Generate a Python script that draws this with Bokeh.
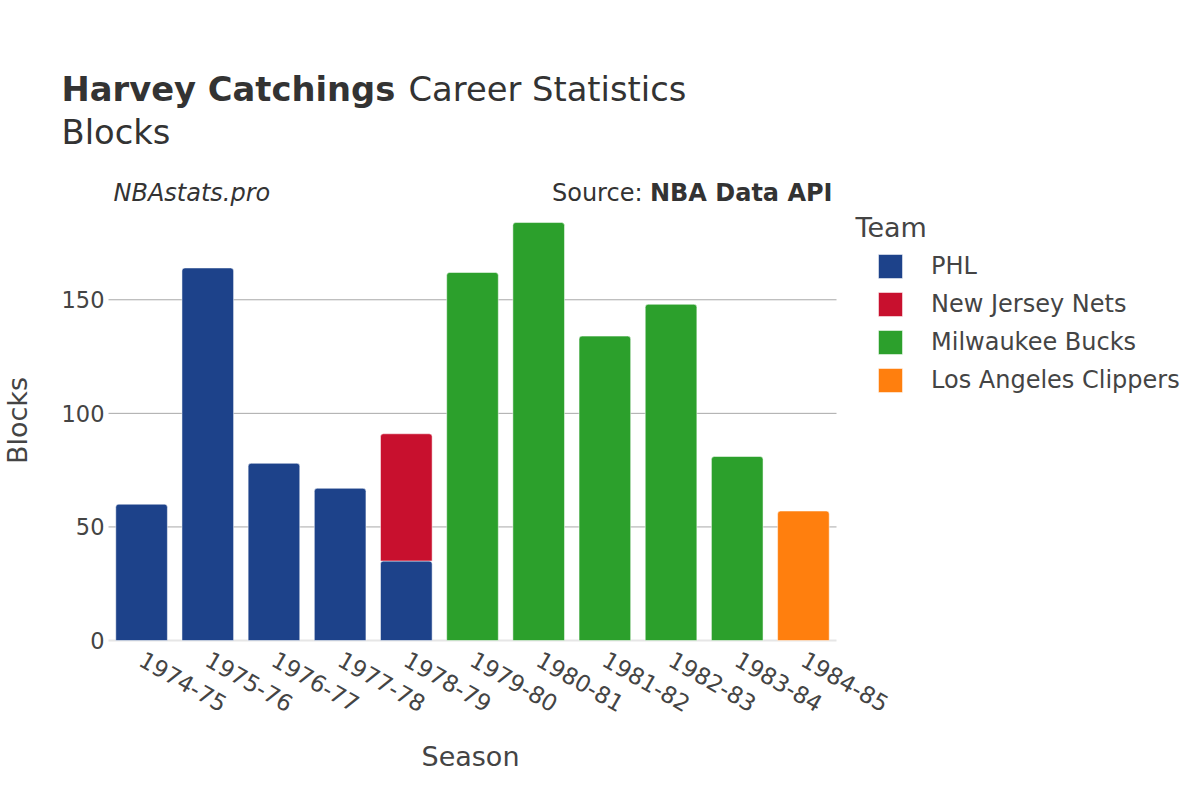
import math
from bokeh.plotting import figure
from bokeh.models import (ColumnDataSource, Range1d, FixedTicker, Label, LinearAxis,
                          Legend, LegendItem, Title)
from bokeh.core.properties import value
from bokeh.embed import file_html
from bokeh.resources import INLINE

# ---- data ----
seasons = ["1974-75", "1975-76", "1976-77", "1977-78", "1978-79", "1979-80",
           "1980-81", "1981-82", "1982-83", "1983-84", "1984-85"]
teams = ["PHL", "New Jersey Nets", "Milwaukee Bucks", "Los Angeles Clippers"]
phl = [60, 164, 78, 67, 35, 0, 0, 0, 0, 0, 0]
njn = [0, 0, 0, 0, 56, 0, 0, 0, 0, 0, 0]
mil = [0, 0, 0, 0, 0, 162, 184, 134, 148, 81, 0]
lac = [0, 0, 0, 0, 0, 0, 0, 0, 0, 0, 57]
colors = ["#1D428A", "#C8102E", "#2CA02C", "#FF7F0E"]
y_ticks = [0, 50, 100, 150]
y_max = 193.7

# ---- layout (pixels) ----
W, H = 1184, 792
PLOT_L, PLOT_R, PLOT_T, PLOT_B = 108, 836, 200, 640   # data area
FRAME_B = 651                                         # frame bottom (room for "0")
n = len(seasons)
unit_x = (PLOT_R - PLOT_L) / n
unit_y = (PLOT_B - PLOT_T) / y_max

p = figure(width=W, height=H, output_backend="svg", toolbar_location=None,
           x_range=Range1d(0, W), y_range=Range1d(FRAME_B, 0),
           x_axis_type=None, y_axis_type=None,
           min_border=0, min_border_left=0, min_border_right=0, min_border_top=0,
           min_border_bottom=H - FRAME_B)
p.title.visible = False
p.outline_line_color = None
p.xgrid.visible = False
p.ygrid.visible = False
p.background_fill_color = "white"
p.border_fill_color = "white"

# data ranges mapped onto the pixel frame
p.extra_x_ranges = {"dx": Range1d(-PLOT_L / unit_x, (W - PLOT_L) / unit_x)}
p.extra_y_ranges = {"dy": Range1d(-(FRAME_B - PLOT_B) / unit_y, PLOT_B / unit_y)}

xpos = [i + 0.5 for i in range(n)]

# ---- grid lines and zero line ----
p.segment(x0=[0] * 3, x1=[n] * 3, y0=y_ticks[1:], y1=y_ticks[1:],
          x_range_name="dx", y_range_name="dy", line_color="#a8a8a8", line_width=1)
p.segment(x0=[0], x1=[n], y0=[0], y1=[0], x_range_name="dx", y_range_name="dy",
          line_color="#e6e6e6", line_width=2)

# ---- bars (stacked) ----
series = [phl, njn, mil, lac]
bottom = [0] * n
renderers = []
for name, vals, col in zip(teams, series, colors):
    xs, tops, bots = [], [], []
    for i, v in enumerate(vals):
        if v > 0:
            xs.append(xpos[i]); bots.append(bottom[i]); tops.append(bottom[i] + v)
    bottom = [b + v for b, v in zip(bottom, vals)]
    src = ColumnDataSource(dict(x=xs, top=tops, bottom=bots))
    r = p.vbar(x="x", top="top", bottom="bottom", width=0.78, source=src,
               x_range_name="dx", y_range_name="dy",
               fill_color=col, line_color="white", line_width=1, line_alpha=0.5,
               border_radius=(3, 3, 0, 0))
    renderers.append(r)

# ---- y tick labels ----
p.text(x=[PLOT_L - 4] * len(y_ticks), y=y_ticks, text=[str(t) for t in y_ticks],
       y_range_name="dy", text_font=value("DejaVu Sans"), text_font_size="22.5px",
       text_color="#444444", text_align="right", text_baseline="middle")

# ---- x axis ----
xaxis = LinearAxis(x_range_name="dx", ticker=FixedTicker(ticks=xpos),
                   major_label_overrides={xp: s for xp, s in zip(xpos, seasons)},
                   bounds=(0, n))
xaxis.axis_line_color = None
xaxis.major_tick_line_color = None
xaxis.minor_tick_line_color = None
xaxis.major_label_text_font = "DejaVu Sans"
xaxis.major_label_text_font_size = "23px"
xaxis.major_label_text_color = "#444444"
xaxis.major_label_orientation = -math.pi / 6
xaxis.major_label_standoff = 0
p.add_layout(xaxis, "below")

p.add_layout(Title(text="Season", align="left", offset=421, standoff=30,
                   text_font="DejaVu Sans", text_font_size="27px",
                   text_font_style="normal", text_color="#444444"), "below")

# ---- texts ----
def add_label(text, x, y, size, bold=False, italic=False, align="left", angle=0, color="#333333"):
    style = "bold" if bold else ("italic" if italic else "normal")
    p.add_layout(Label(x=x, y=y, text=text,
                       text_font="DejaVu Sans", text_font_size=f"{size}px",
                       text_font_style=style, text_color=color, text_align=align,
                       text_baseline="middle", angle=angle))

add_label("Harvey Catchings", 61, 89, 33.75, bold=True)
add_label("Career Statistics", 408, 89, 33.75)
add_label("Blocks", 61, 132, 33.75)
add_label("NBAstats.pro", 113, 192, 24, italic=True)
add_label("Source:", 642, 192, 24, align="right")
add_label("NBA Data API", 832, 192, 24, bold=True, align="right")
add_label("Team", 855, 227, 27, color="#444444")
add_label("Blocks", 17, 420, 27, align="center", angle=math.pi / 2, color="#444444")

# ---- legend ----
items = [LegendItem(label=t, renderers=[r]) for t, r in zip(teams, renderers)]
legend = Legend(items=items, location=(875, FRAME_B - 395),
                padding=0, margin=0,
                glyph_width=30, glyph_height=30, spacing=8, label_standoff=26,
                label_text_font="DejaVu Sans", label_text_font_size="24px",
                label_text_color="#444444", border_line_color=None,
                background_fill_alpha=0)
p.add_layout(legend, "center")

open("out.html", "w").write(file_html(p, INLINE))
